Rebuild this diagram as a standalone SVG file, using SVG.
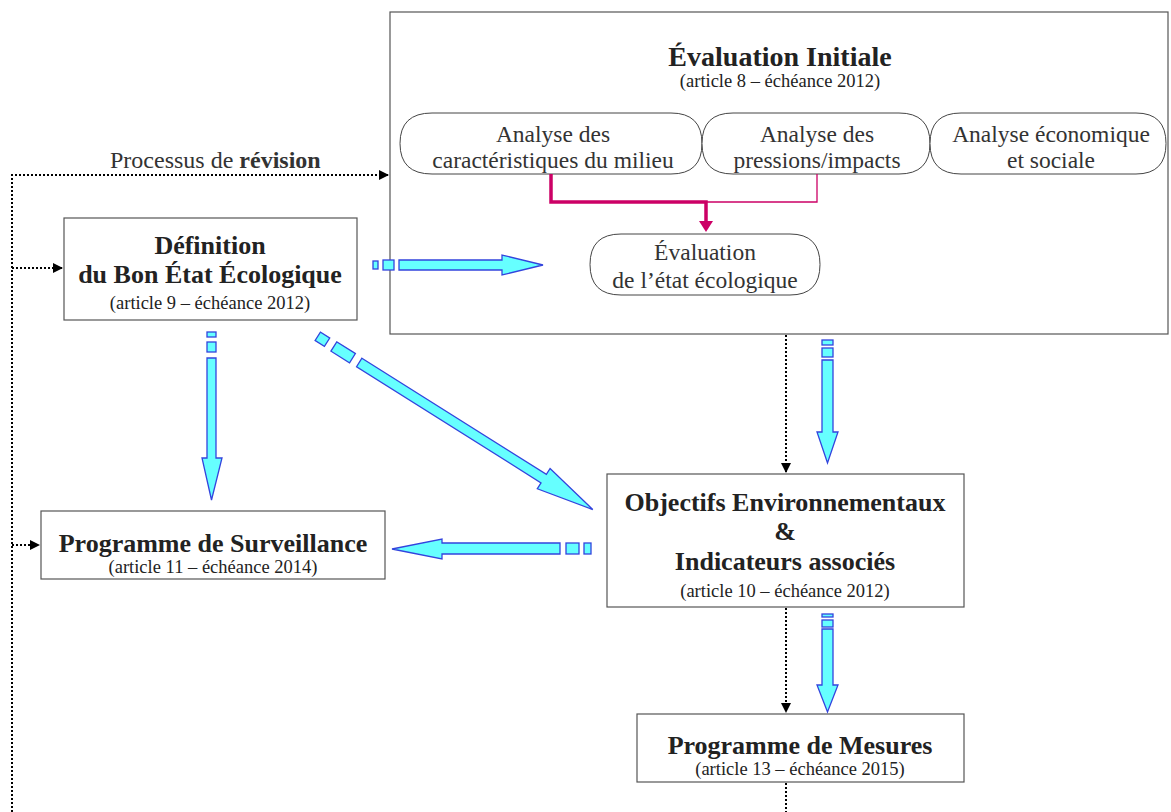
<svg xmlns="http://www.w3.org/2000/svg" width="1171" height="812" viewBox="0 0 1171 812">
<defs>
<style>
text{font-family:"Liberation Serif","Times New Roman",serif;fill:#222;}
.t{font-size:26px;font-weight:bold;text-anchor:middle;}
.s{font-size:18.5px;text-anchor:middle;}
.p{font-size:23.5px;text-anchor:middle;fill:#333;}
.box{fill:#fff;stroke:#555;stroke-width:1.2;}
.pill{fill:#fff;stroke:#444;stroke-width:1;}
.dot{fill:none;stroke:#000;stroke-width:2;stroke-dasharray:2 2;}
.blue{fill:#66FFFF;stroke:#3344DD;stroke-width:1.3;}
</style>
<marker id="ahb" viewBox="0 0 10 10" refX="9" refY="5" markerWidth="10" markerHeight="10" orient="auto" markerUnits="userSpaceOnUse">
<path d="M0,0 L10,5 L0,10 z" fill="#000"/>
</marker>
</defs>

<g id="eval-initiale">
<rect class="box" x="390" y="12" width="778" height="322"/>
<text class="t" x="780" y="66" style="font-size:28px">Évaluation Initiale</text>
<text class="s" x="780" y="87">(article 8 – échéance 2012)</text>
</g>
<g id="pill-milieu">
<path class="pill" d="M432,113 H671 Q702,113 702,143.5 Q702,174 671,174 H432 Q400,174 400,143.5 Q400,113 432,113 Z"/>
<text class="p" x="553" y="142">Analyse des</text>
<text class="p" x="553" y="168">caractéristiques du milieu</text>
</g>
<g id="pill-pressions">
<path class="pill" d="M733,113 H899 Q930,113 930,143.5 Q930,174 899,174 H733 Q702,174 702,143.5 Q702,113 733,113 Z"/>
<text class="p" x="817" y="142">Analyse des</text>
<text class="p" x="817" y="168">pressions/impacts</text>
</g>
<g id="pill-eco">
<path class="pill" d="M961,113 H1136 Q1166,113 1166,143.5 Q1166,174 1136,174 H961 Q930,174 930,143.5 Q930,113 961,113 Z"/>
<text class="p" x="1051" y="142">Analyse économique</text>
<text class="p" x="1051" y="168">et sociale</text>
</g>
<g id="pill-etat">
<path class="pill" d="M621,234 H790 Q820,234 820,264.5 Q820,295 790,295 H621 Q590,295 590,264.5 Q590,234 621,234 Z"/>
<text class="p" x="705" y="260">Évaluation</text>
<text class="p" x="705" y="288">de l’état écologique</text>
</g>

<g id="bee">
<rect class="box" x="64" y="218" width="293" height="102"/>
<text class="t" x="210" y="254">Définition</text>
<text class="t" x="210" y="283">du Bon État Écologique</text>
<text class="s" x="210" y="309">(article 9 – échéance 2012)</text>
</g>
<g id="surveillance">
<rect class="box" x="41" y="511" width="344" height="68"/>
<text class="t" x="213" y="552">Programme de Surveillance</text>
<text class="s" x="213" y="573">(article 11 – échéance 2014)</text>
</g>
<g id="objectifs">
<rect class="box" x="607" y="474" width="357" height="133"/>
<text class="t" x="785" y="511">Objectifs Environnementaux</text>
<text class="t" x="785" y="540">&amp;</text>
<text class="t" x="785" y="570">Indicateurs associés</text>
<text class="s" x="785" y="597">(article 10 – échéance 2012)</text>
</g>
<g id="mesures">
<rect class="box" x="637" y="714" width="327" height="68"/>
<text class="t" x="800" y="754">Programme de Mesures</text>
<text class="s" x="800" y="775">(article 13 – échéance 2015)</text>
</g>

<g id="connectors">
<text x="110" y="168" style="font-size:24px;fill:#333;">Processus de <tspan font-weight="bold">révision</tspan></text>
<path class="dot" d="M12,812 V175 H388" marker-end="url(#ahb)"/>
<path class="dot" d="M12,268 H62" marker-end="url(#ahb)"/>
<path class="dot" d="M12,545 H39" marker-end="url(#ahb)"/>
<path class="dot" d="M786,335 V472" marker-end="url(#ahb)"/>
<path class="dot" d="M786,608 V712" marker-end="url(#ahb)"/>
<path class="dot" d="M786,783 V812"/>

<path d="M551,174 V202 H706 V223" fill="none" stroke="#CC0066" stroke-width="3.5"/>
<path d="M817,174 V202 H706" fill="none" stroke="#CC0066" stroke-width="1.3"/>
<path d="M699,221 L713,221 L706,232 Z" fill="#CC0066"/>

<g id="arrow-bee-eval">
<rect class="blue" x="373" y="261" width="5" height="8"/>
<rect class="blue" x="383" y="260" width="11" height="10"/>
<path class="blue" d="M399,260 H502 V255 L543,265 L502,275 V270 H399 Z"/>
</g>
<g id="arrow-bee-surv">
<rect class="blue" x="207" y="332" width="9" height="5"/>
<rect class="blue" x="207" y="342" width="9" height="10"/>
<path class="blue" d="M207,358 H216 V458 L222,458 L211.5,500 L202,458 H207 Z"/>
</g>
<g id="arrow-bee-obj" transform="translate(322,339) rotate(32.2)">
<rect class="blue" x="-5" y="-5" width="11" height="10"/>
<rect class="blue" x="14" y="-5.5" width="22" height="11"/>
<path class="blue" d="M44,-5 H262 V-12 L320,0 L262,12 V5 H44 Z"/>
</g>
<g id="arrow-obj-surv">
<path class="blue" d="M560,543 H442 V539 L392,549 L442,559 V554 H560 Z"/>
<rect class="blue" x="566" y="543" width="13" height="11"/>
<rect class="blue" x="584" y="543" width="7" height="11"/>
</g>
<g id="arrow-eval-obj">
<rect class="blue" x="822" y="340" width="11" height="5"/>
<rect class="blue" x="822" y="348" width="11" height="9"/>
<path class="blue" d="M822,360 H833 V432 H838 L827.5,463 L817,432 H822 Z"/>
</g>
<g id="arrow-obj-mes">
<rect class="blue" x="822" y="614" width="11" height="3"/>
<rect class="blue" x="822" y="620" width="11" height="7"/>
<path class="blue" d="M822,629 H833 V685 H838 L827.5,712 L817,685 H822 Z"/>
</g>
</g>
</svg>
